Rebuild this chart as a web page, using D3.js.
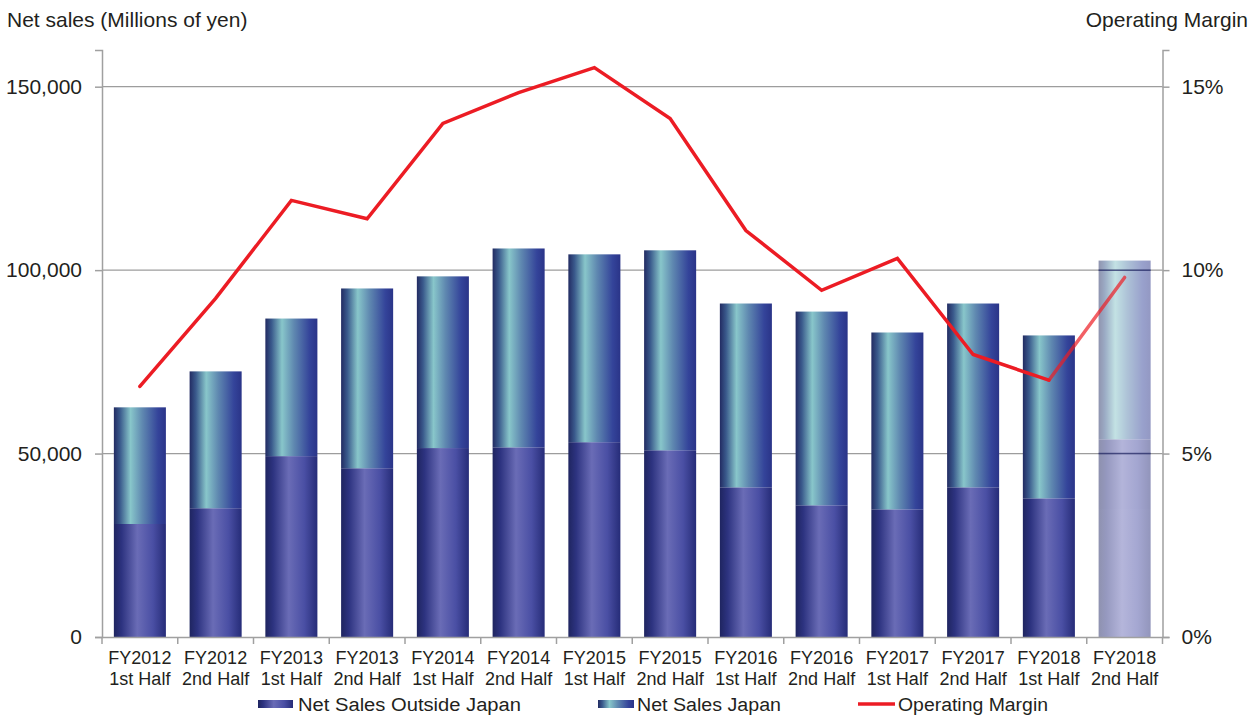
<!DOCTYPE html>
<html>
<head>
<meta charset="utf-8">
<script src="https://cdn.jsdelivr.net/npm/d3@7"></script>
<style>
  body { margin: 0; background: #fff; }
  svg text { font-family: "Liberation Sans", Arial, sans-serif; fill: #231f20; }
</style>
</head>
<body>
<div id="chart"></div>
<script>
const categories = ["FY2012|1st Half", "FY2012|2nd Half", "FY2013|1st Half", "FY2013|2nd Half",
  "FY2014|1st Half", "FY2014|2nd Half", "FY2015|1st Half", "FY2015|2nd Half",
  "FY2016|1st Half", "FY2016|2nd Half", "FY2017|1st Half", "FY2017|2nd Half",
  "FY2018|1st Half", "FY2018|2nd Half"];
const outsideJapan = [30800, 35100, 49300, 46000, 51500, 51700, 53100, 50900, 40800, 35900, 34800, 40800, 37800, 53900];
const japan = [31800, 37300, 37500, 49000, 46800, 54200, 51200, 54500, 50100, 52800, 48200, 50100, 44400, 48700];
const margin = [6.83, 9.23, 11.9, 11.4, 14.0, 14.84, 15.52, 14.13, 11.08, 9.45, 10.32, 7.7, 7.0, 9.8];
const leftTicks = [0, 50000, 100000, 150000];
const rightTicks = [0, 5, 10, 15];

const W = 1260, H = 718;
const plot = { left: 102, right: 1162.5, top: 50, bottom: 637 };

const svg = d3.select("#chart").append("svg").attr("width", W).attr("height", H);
const defs = svg.append("defs");

function hGrad(id, stops) {
  const g = defs.append("linearGradient").attr("id", id)
    .attr("x1", "0%").attr("x2", "100%").attr("y1", "0%").attr("y2", "0%");
  stops.forEach(s => g.append("stop").attr("offset", s[0]).attr("stop-color", s[1]));
}
hGrad("gOut", [["0%", "#1f2560"], ["15%", "#2d3380"], ["45%", "#6a6cb6"], ["75%", "#4a4fa4"], ["100%", "#262c78"]]);
hGrad("gJp", [["0%", "#222b62"], ["12%", "#3a5a8c"], ["32%", "#88c6ca"], ["55%", "#5f88b0"], ["85%", "#34449a"], ["100%", "#2a3488"]]);

const x = d3.scaleBand().domain(categories).range([plot.left, plot.right]).paddingInner(0.313).paddingOuter(0.1565);
const y = d3.scaleLinear().domain([0, 160000]).range([plot.bottom, plot.top]);
const y2 = d3.scaleLinear().domain([0, 16]).range([plot.bottom, plot.top]);

// gridlines
svg.append("g").selectAll("line").data(leftTicks.slice(1)).join("line")
  .attr("x1", plot.left).attr("x2", plot.right)
  .attr("y1", d => y(d)).attr("y2", d => y(d))
  .attr("stroke", "#9d9d9d").attr("stroke-width", 1.3);

// bars
const bars = svg.append("g");
categories.forEach((c, i) => {
  const g = bars.append("g").attr("opacity", i === categories.length - 1 ? 0.5 : 1);
  g.append("rect").attr("x", x(c)).attr("width", x.bandwidth())
    .attr("y", y(outsideJapan[i])).attr("height", y(0) - y(outsideJapan[i]))
    .attr("fill", "url(#gOut)");
  g.append("rect").attr("x", x(c)).attr("width", x.bandwidth())
    .attr("y", y(outsideJapan[i] + japan[i])).attr("height", y(outsideJapan[i]) - y(outsideJapan[i] + japan[i]))
    .attr("fill", "url(#gJp)");
});
// gridlines seen through last (forecast) bar
const lastC = categories[categories.length - 1];
svg.append("g").selectAll("line").data(leftTicks.slice(1).filter(d => d < outsideJapan[13] + japan[13])).join("line")
  .attr("x1", x(lastC)).attr("x2", x(lastC) + x.bandwidth())
  .attr("y1", d => y(d)).attr("y2", d => y(d))
  .attr("stroke", "#2d3270").attr("stroke-width", 1.5).attr("opacity", 0.7);

// axes
const axisColor = "#a0a0a0";
const gl = svg.append("g").attr("transform", `translate(${plot.left},0)`)
  .call(d3.axisLeft(y).tickValues(leftTicks).tickSize(7).tickPadding(13).tickFormat(d3.format(",")));
const gr = svg.append("g").attr("transform", `translate(${plot.right},0)`)
  .call(d3.axisRight(y2).tickValues(rightTicks).tickSize(7).tickPadding(12).tickFormat(d => d + "%"));
[gl, gr].forEach(g => {
  g.select(".domain").attr("stroke", axisColor).attr("stroke-width", 1.5);
  g.selectAll(".tick line").attr("stroke", axisColor).attr("stroke-width", 1.5);
  g.selectAll(".tick text").attr("font-size", 21).attr("fill", "#231f20")
    .attr("font-family", "Liberation Sans, Arial, sans-serif");
});

const gx = svg.append("g").attr("transform", `translate(0,${plot.bottom})`)
  .call(d3.axisBottom(x).tickSize(0).tickFormat(""));
gx.select(".domain").attr("stroke", axisColor).attr("stroke-width", 1.5);
// category boundary ticks
svg.append("g").selectAll("line").data(d3.range(categories.length + 1)).join("line")
  .attr("x1", i => plot.left + i * (plot.right - plot.left) / categories.length)
  .attr("x2", i => plot.left + i * (plot.right - plot.left) / categories.length)
  .attr("y1", plot.bottom).attr("y2", plot.bottom + 7)
  .attr("stroke", axisColor).attr("stroke-width", 1.5);
const labels = svg.append("g").selectAll("text").data(categories).join("text")
  .attr("x", d => x(d) + x.bandwidth() / 2).attr("text-anchor", "middle").attr("font-size", 18);
labels.append("tspan").attr("x", d => x(d) + x.bandwidth() / 2).attr("y", 664).text(d => d.split("|")[0]);
labels.append("tspan").attr("x", d => x(d) + x.bandwidth() / 2).attr("y", 685).text(d => d.split("|")[1]);

// operating margin line
const pts = margin.map((m, i) => [x(categories[i]) + x.bandwidth() / 2, y2(m)]);
const line = d3.line();
svg.append("path").attr("d", line(pts.slice(0, 13))).attr("fill", "none")
  .attr("stroke", "#ec1c24").attr("stroke-width", 3.5).attr("stroke-linejoin", "miter").attr("stroke-linecap", "round");
svg.append("path").attr("d", line(pts.slice(12))).attr("fill", "none")
  .attr("stroke", "#ec1c24").attr("stroke-width", 3.5).attr("stroke-linecap", "round").attr("opacity", 0.7);

// titles
svg.append("text").attr("x", 7).attr("y", 27).attr("font-size", 21).text("Net sales (Millions of yen)");
svg.append("text").attr("x", 1248).attr("y", 27).attr("font-size", 21).attr("text-anchor", "end").text("Operating Margin");

// legend
const leg = svg.append("g").attr("font-size", 18);
leg.append("rect").attr("x", 258).attr("y", 700).attr("width", 35).attr("height", 8).attr("fill", "url(#gOut)");
leg.append("text").attr("x", 298).attr("y", 711).attr("textLength", 223).attr("lengthAdjust", "spacingAndGlyphs").text("Net Sales Outside Japan");
leg.append("rect").attr("x", 598).attr("y", 700).attr("width", 36).attr("height", 8).attr("fill", "url(#gJp)");
leg.append("text").attr("x", 637).attr("y", 711).attr("textLength", 144).attr("lengthAdjust", "spacingAndGlyphs").text("Net Sales Japan");
leg.append("line").attr("x1", 858).attr("x2", 895).attr("y1", 704).attr("y2", 704).attr("stroke", "#ec1c24").attr("stroke-width", 3.5);
leg.append("text").attr("x", 898).attr("y", 711).attr("textLength", 150).attr("lengthAdjust", "spacingAndGlyphs").text("Operating Margin");
</script>
</body>
</html>
